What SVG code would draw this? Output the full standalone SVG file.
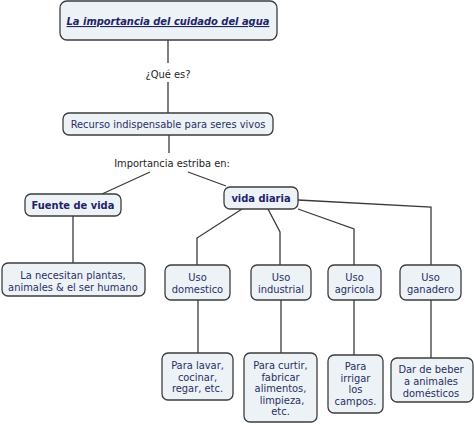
<svg xmlns="http://www.w3.org/2000/svg" width="474" height="425" viewBox="0 0 474 425">
<style>
.box{fill:#edf2f7;stroke:#3c3c3c;stroke-width:1.3}
.t{font-family:"DejaVu Sans Condensed","DejaVu Sans",sans-serif;font-size:11px;fill:#2a2f62;text-anchor:middle}
.b{font-weight:bold;fill:#1f2468}
.lbl{font-family:"DejaVu Sans Condensed","DejaVu Sans",sans-serif;font-size:11px;fill:#1e1e1e;text-anchor:middle}
.c{fill:none;stroke:#3a3a3a;stroke-width:1.3}
</style>
<rect width="474" height="425" fill="#ffffff"/>
<g id="connectors">
<path class="c" d="M168,40V63"/>
<path class="c" d="M168,82V113"/>
<path class="c" d="M169,135V153"/>
<path class="c" d="M150,172L102,194"/>
<path class="c" d="M188,172L226,186"/>
<path class="c" d="M73,216V263"/>
<path class="c" d="M242,209L197,238V265"/>
<path class="c" d="M268,209L280,232V265"/>
<path class="c" d="M298,209L354,229V265"/>
<path class="c" d="M298,200L431,207V265"/>
<path class="c" d="M198,300V353"/>
<path class="c" d="M281,300V353"/>
<path class="c" d="M354,300V355"/>
<path class="c" d="M431,300V358"/>
</g>
<g id="lbl-que"><text class="lbl" x="168" y="78">¿Qué es?</text></g>
<g id="lbl-imp"><text class="lbl" x="172" y="167">Importancia estriba en:</text></g>
<g id="n-title">
<rect class="box" x="60" y="1" width="217" height="39" rx="7"/>
<text class="t b" x="168" y="25" font-style="italic" text-decoration="underline">La importancia del cuidado del agua</text>
</g>
<g id="n-recurso">
<rect class="box" x="63" y="113" width="210" height="22" rx="6"/>
<text class="t" x="168" y="128">Recurso indispensable para seres vivos</text>
</g>
<g id="n-fuente">
<rect class="box" x="25" y="194" width="96" height="22" rx="6"/>
<text class="t b" x="73" y="209">Fuente de vida</text>
</g>
<g id="n-vida">
<rect class="box" x="224" y="187" width="74" height="22" rx="6"/>
<text class="t b" x="261" y="202">vida diaria</text>
</g>
<g id="n-necesitan">
<rect class="box" x="2" y="263" width="143" height="33" rx="6"/>
<text class="t" x="73" y="279">La necesitan plantas,</text>
<text class="t" x="73" y="291">animales &amp; el ser humano</text>
</g>
<g id="n-domestico">
<rect class="box" x="165" y="265" width="65" height="35" rx="6"/>
<text class="t" x="197.5" y="281">Uso</text>
<text class="t" x="197.5" y="293">domestico</text>
</g>
<g id="n-industrial">
<rect class="box" x="251" y="265" width="60" height="35" rx="6"/>
<text class="t" x="281" y="281">Uso</text>
<text class="t" x="281" y="293">industrial</text>
</g>
<g id="n-agricola">
<rect class="box" x="328" y="265" width="53" height="35" rx="6"/>
<text class="t" x="354.5" y="281">Uso</text>
<text class="t" x="354.5" y="293">agricola</text>
</g>
<g id="n-ganadero">
<rect class="box" x="400" y="265" width="61" height="35" rx="6"/>
<text class="t" x="430.5" y="281">Uso</text>
<text class="t" x="430.5" y="293">ganadero</text>
</g>
<g id="n-lavar">
<rect class="box" x="162" y="353" width="71" height="47" rx="6"/>
<text class="t" x="197.5" y="369">Para lavar,</text>
<text class="t" x="197.5" y="380.5">cocinar,</text>
<text class="t" x="197.5" y="392">regar, etc.</text>
</g>
<g id="n-curtir">
<rect class="box" x="244" y="353" width="73" height="69" rx="6"/>
<text class="t" x="280.5" y="369">Para curtir,</text>
<text class="t" x="280.5" y="380.5">fabricar</text>
<text class="t" x="280.5" y="392">alimentos,</text>
<text class="t" x="282" y="403.5">limpieza,</text>
<text class="t" x="280.5" y="415">etc.</text>
</g>
<g id="n-irrigar">
<rect class="box" x="328" y="355" width="55" height="58" rx="6"/>
<text class="t" x="355.5" y="370">Para</text>
<text class="t" x="355.5" y="381.5">irrigar</text>
<text class="t" x="355.5" y="393">los</text>
<text class="t" x="355.5" y="404.5">campos.</text>
</g>
<g id="n-beber">
<rect class="box" x="391" y="358" width="82" height="44" rx="6"/>
<text class="t" x="431" y="373">Dar de beber</text>
<text class="t" x="431" y="385">a animales</text>
<text class="t" x="431" y="396.5">domésticos</text>
</g>
</svg>
